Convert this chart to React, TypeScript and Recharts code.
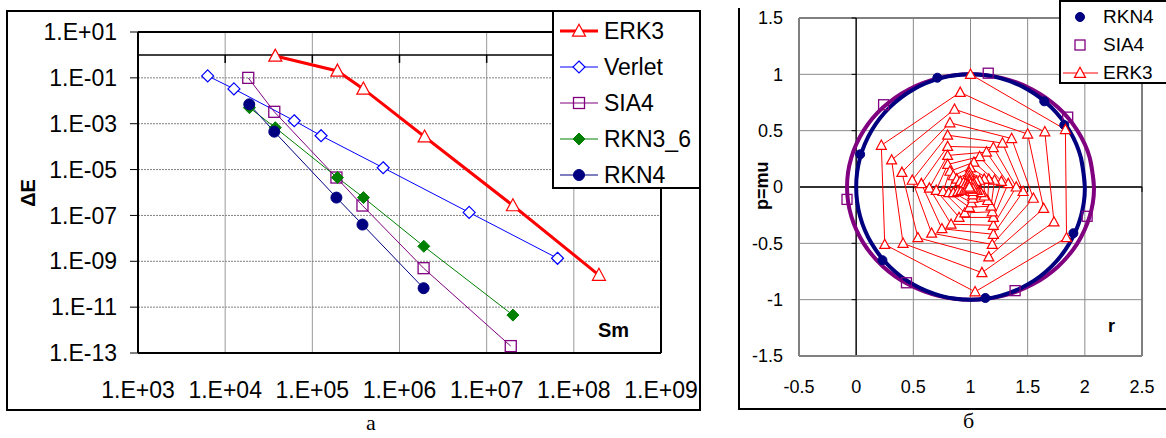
import React from "react"
import { ComposedChart, Line, XAxis, YAxis, CartesianGrid, ReferenceLine } from "recharts"

// ---- chart "a": energy error vs number of steps (log-log)
const xTicksA = [1e3, 1e4, 1e5, 1e6, 1e7, 1e8, 1e9]
const yTicksA = [1e-13, 1e-11, 1e-9, 1e-7, 1e-5, 1e-3, 1e-1, 1e1]
const crossTicksA = [1e4, 1e5, 1e6, 1e7, 1e8]

const erk3A: [number, number][] = [
  [3.76e4, 0.9],
  [1.94e5, 0.2],
  [3.85e5, 0.033],
  [1.94e6, 2.7e-4],
  [2.0e7, 2.7e-7],
  [1.94e8, 2.5e-10],
]
const verletA: [number, number][] = [
  [6.3e3, 0.122],
  [1.26e4, 0.033],
  [6.2e4, 1.35e-3],
  [1.26e5, 3.0e-4],
  [6.5e5, 1.2e-5],
  [6.3e6, 1.35e-7],
  [6.5e7, 1.35e-9],
]
const sia4A: [number, number][] = [
  [1.84e4, 0.1],
  [3.66e4, 3.3e-3],
  [1.89e5, 4.5e-6],
  [3.76e5, 2.7e-7],
  [1.89e6, 5e-10],
  [1.89e7, 2e-13],
]
const rkn36A: [number, number][] = [
  [1.9e4, 5e-3],
  [3.76e4, 6.7e-4],
  [1.94e5, 4.5e-6],
  [3.86e5, 6e-7],
  [1.9e6, 4.5e-9],
  [2.0e7, 4.5e-12],
]
const rkn4A: [number, number][] = [
  [1.89e4, 7e-3],
  [3.66e4, 4.5e-4],
  [1.89e5, 6e-7],
  [3.76e5, 4e-8],
  [1.89e6, 6.7e-11],
]

// ---- chart "б": phase portrait r / p=mu
const xTicksB = [-0.5, 0, 0.5, 1, 1.5, 2, 2.5]
const yTicksB = [-1.5, -1, -0.5, 0, 0.5, 1, 1.5]

const rkn4Orbit: [number, number][] = [
  [2.0, 0], [1.966, 0.259], [1.866, 0.5], [1.707, 0.707], [1.5, 0.866], [1.259, 0.966],
  [1.0, 1.0], [0.741, 0.966], [0.5, 0.866], [0.293, 0.707], [0.134, 0.5], [0.034, 0.259],
  [0.0, 0], [0.034, -0.259], [0.134, -0.5], [0.293, -0.707], [0.5, -0.866], [0.741, -0.966],
  [1.0, -1.0], [1.259, -0.966], [1.5, -0.866], [1.707, -0.707], [1.866, -0.5], [1.966, -0.259],
  [2.0, 0], [1.966, 0.259],
]
const sia4Orbit: [number, number][] = [
  [2.08, 0], [2.043, 0.259], [1.935, 0.5], [1.764, 0.707], [1.54, 0.866], [1.28, 0.966],
  [1.0, 1.0], [0.72, 0.966], [0.46, 0.866], [0.236, 0.707], [0.065, 0.5], [-0.043, 0.259],
  [-0.08, 0], [-0.043, -0.259], [0.065, -0.5], [0.236, -0.707], [0.46, -0.866], [0.72, -0.966],
  [1.0, -1.0], [1.28, -0.966], [1.54, -0.866], [1.764, -0.707], [1.935, -0.5], [2.043, -0.259],
  [2.08, 0], [2.043, 0.259],
]
const rkn4Marks: [number, number][] = [
  [0.035, 0.29], [0.71, 0.97], [1.645, 0.76], [1.82, 0.55], [1.9, -0.41], [0.23, -0.65], [1.13, -0.985],
]
const sia4Marks: [number, number][] = [
  [0.24, 0.73], [1.155, 1.01], [1.85, 0.62], [-0.08, -0.11], [2.02, -0.26], [0.44, -0.85], [1.39, -0.92],
]
const erk3Spiral: [number, number][] = [
  [1.0, 1.0], [1.83, 0.51], [1.84, -0.45], [1.04, -0.93], [0.25, -0.51], [0.22, 0.37],
  [0.91, 0.84], [1.65, 0.49], [1.73, -0.31], [1.1, -0.76], [0.41, -0.5], [0.31, 0.24],
  [0.86, 0.69], [1.5, 0.47], [1.64, -0.19], [1.16, -0.62], [0.54, -0.45], [0.4, 0.13],
  [0.82, 0.57], [1.36, 0.43], [1.55, -0.1], [1.19, -0.51], [0.66, -0.41], [0.49, 0.06],
  [0.8, 0.46], [1.28, 0.39], [1.46, -0.04], [1.2, -0.42], [0.75, -0.37], [0.57, 0.03],
  [0.8, 0.36], [1.2, 0.35], [1.4, 0.0], [1.2, -0.34], [0.83, -0.33], [0.64, -0.01],
  [0.8, 0.28], [1.14, 0.31], [1.33, 0.03], [1.2, -0.27], [0.9, -0.27], [0.7, -0.03],
  [0.8, 0.2], [1.08, 0.27], [1.27, 0.05], [1.19, -0.22], [0.95, -0.23], [0.76, -0.04],
  [0.82, 0.14], [1.03, 0.22], [1.21, 0.06], [1.18, -0.17], [0.99, -0.18], [0.81, -0.05],
  [0.85, 0.1], [1.0, 0.17], [1.16, 0.07], [1.15, -0.12], [1.01, -0.14], [0.85, -0.05],
  [0.88, 0.07], [0.99, 0.13], [1.12, 0.07], [1.12, -0.08], [1.02, -0.1], [0.89, -0.04],
  [0.91, 0.05], [0.99, 0.1], [1.08, 0.06], [1.09, -0.05], [1.02, -0.07], [0.92, -0.03],
  [0.94, 0.04], [0.99, 0.07], [1.05, 0.05], [1.06, -0.03], [1.02, -0.04], [0.95, -0.02],
  [0.96, 0.03], [0.99, 0.05], [1.03, 0.03], [1.04, -0.02], [1.01, -0.02], [0.97, -0.01],
  [0.98, 0.02], [1.0, 0.03], [1.02, 0.02], [1.02, -0.01], [1.0, -0.01], [0.99, 0.0],
]

const pts = (a: [number, number][]) => a.map(([x, y]) => ({ x, y }))

const sci = (v: number) => {
  const e = Math.round(Math.log10(v))
  return `1.E${e < 0 ? "-" : "+"}${String(Math.abs(e)).padStart(2, "0")}`
}

const FONT = "'Liberation Sans', Arial, sans-serif"
const SERIF = "'Liberation Serif', 'Times New Roman', serif"

// marker shapes
function Mark({ kind, cx, cy, s, color }: { kind: string; cx: number; cy: number; s: number; color: string }) {
  const h = s / 2
  if (kind === "tri")
    return <polygon points={`${cx},${cy - h * 1.05} ${cx - h},${cy + h * 0.8} ${cx + h},${cy + h * 0.8}`} fill="#fff" stroke={color} strokeWidth={1.2} />
  if (kind === "dia")
    return <polygon points={`${cx},${cy - h} ${cx + h},${cy} ${cx},${cy + h} ${cx - h},${cy}`} fill="#fff" stroke={color} strokeWidth={1.2} />
  if (kind === "fdia")
    return <polygon points={`${cx},${cy - h} ${cx + h},${cy} ${cx},${cy + h} ${cx - h},${cy}`} fill={color} stroke={color} strokeWidth={1} />
  if (kind === "sq")
    return <rect x={cx - h} y={cy - h} width={s} height={s} fill="none" stroke={color} strokeWidth={1.3} />
  return <circle cx={cx} cy={cy} r={h} fill={color} stroke={color} />
}

const dot = (kind: string, s: number, color: string) => (p: any) => {
  if (p.cx == null || p.cy == null) return <g key={p.index} />
  return (
    <g key={p.index}>
      <Mark kind={kind} cx={p.cx} cy={p.cy} s={s} color={color} />
    </g>
  )
}

const legendA = [
  { name: "ERK3", color: "#ff0000", kind: "tri", w: 3, s: 13 },
  { name: "Verlet", color: "#0000ff", kind: "dia", w: 1, s: 12 },
  { name: "SIA4", color: "#800080", kind: "sq", w: 1, s: 11 },
  { name: "RKN3_6", color: "#008000", kind: "fdia", w: 1, s: 12 },
  { name: "RKN4", color: "#000080", kind: "dot", w: 1, s: 11 },
]

function ChartA() {
  return (
    <ComposedChart width={700} height={410} margin={{ top: 32, right: 39, bottom: 17, left: 0 }}>
      <CartesianGrid horizontal={false} stroke="#9a9a9a" />
      <CartesianGrid vertical={false} stroke="#808080" strokeDasharray="2 1" />
      <XAxis
        dataKey="x"
        type="number"
        scale="log"
        domain={[1e3, 1e9]}
        ticks={xTicksA}
        tickFormatter={sci}
        allowDataOverflow
        height={40}
        tickLine={false}
        tickSize={0}
        tickMargin={29}
        axisLine={{ stroke: "#000", strokeWidth: 2 }}
        tick={{ fontSize: 23, fill: "#000", fontFamily: FONT }}
      />
      <YAxis
        dataKey="y"
        type="number"
        scale="log"
        domain={[1e-13, 10]}
        ticks={yTicksA}
        tickFormatter={sci}
        allowDataOverflow
        width={138}
        tickSize={8}
        tickMargin={13}
        tickLine={{ stroke: "#000" }}
        axisLine={{ stroke: "#000", strokeWidth: 2 }}
        tick={{ fontSize: 23, fill: "#000", fontFamily: FONT }}
      />
      <ReferenceLine y={10} stroke="#000" strokeWidth={2} />
      <ReferenceLine x={1e9} stroke="#000" strokeWidth={2} />
      <ReferenceLine y={1} stroke="#000" strokeWidth={1.5} />
      {crossTicksA.map((t) => (
        <ReferenceLine key={t} segment={[{ x: t, y: 1 }, { x: t, y: 0.45 }]} stroke="#000" strokeWidth={1.5} />
      ))}
      <Line data={pts(verletA)} dataKey="y" stroke="#0000ff" strokeWidth={1} dot={dot("dia", 12, "#0000ff")} activeDot={false} isAnimationActive={false} />
      <Line data={pts(sia4A)} dataKey="y" stroke="#800080" strokeWidth={1} dot={dot("sq", 11, "#800080")} activeDot={false} isAnimationActive={false} />
      <Line data={pts(rkn36A)} dataKey="y" stroke="#008000" strokeWidth={1} dot={dot("fdia", 12, "#008000")} activeDot={false} isAnimationActive={false} />
      <Line data={pts(rkn4A)} dataKey="y" stroke="#000080" strokeWidth={1} dot={dot("dot", 11, "#000080")} activeDot={false} isAnimationActive={false} />
      <Line data={pts(erk3A)} dataKey="y" stroke="#ff0000" strokeWidth={3} dot={dot("tri", 13, "#ff0000")} activeDot={false} isAnimationActive={false} />
    </ComposedChart>
  )
}

function ChartB() {
  return (
    <ComposedChart width={428} height={410} margin={{ top: 18, right: 24, bottom: 14, left: 0 }}>
      <CartesianGrid stroke="#8a8a8a" />
      <XAxis
        dataKey="x"
        type="number"
        domain={[-0.5, 2.5]}
        ticks={xTicksB}
        allowDataOverflow
        height={40}
        tickLine={false}
        tickSize={0}
        tickMargin={24}
        axisLine={{ stroke: "#808080", strokeWidth: 2 }}
        tick={{ fontSize: 18, fill: "#000", fontFamily: FONT }}
      />
      <YAxis
        dataKey="y"
        type="number"
        domain={[-1.5, 1.5]}
        ticks={yTicksB}
        allowDataOverflow
        width={61}
        tickLine={false}
        tickSize={0}
        tickMargin={16}
        axisLine={{ stroke: "#808080", strokeWidth: 2 }}
        tick={{ fontSize: 18, fill: "#000", fontFamily: FONT }}
      />
      <ReferenceLine y={1.5} stroke="#808080" strokeWidth={2} />
      <ReferenceLine x={2.5} stroke="#808080" strokeWidth={2} />
      <ReferenceLine x={0} stroke="#000" strokeWidth={1.3} />
      <ReferenceLine y={0} stroke="#000" strokeWidth={1.3} />
      {yTicksB.map((t) => (
        <ReferenceLine key={"y" + t} segment={[{ x: -0.04, y: t }, { x: 0, y: t }]} stroke="#000" />
      ))}
      {xTicksB.map((t) => (
        <ReferenceLine key={"x" + t} segment={[{ x: t, y: 0 }, { x: t, y: -0.045 }]} stroke="#000" />
      ))}
      <Line data={pts(sia4Orbit)} type="natural" dataKey="y" stroke="#800080" strokeWidth={4} dot={false} activeDot={false} isAnimationActive={false} />
      <Line data={pts(rkn4Orbit)} type="natural" dataKey="y" stroke="#000080" strokeWidth={4} dot={false} activeDot={false} isAnimationActive={false} />
      <Line data={pts(sia4Marks)} dataKey="y" stroke="none" dot={dot("sq", 10, "#800080")} activeDot={false} isAnimationActive={false} />
      <Line data={pts(rkn4Marks)} dataKey="y" stroke="none" dot={dot("dot", 9, "#000080")} activeDot={false} isAnimationActive={false} />
      <Line data={pts(erk3Spiral)} dataKey="y" stroke="#ff0000" strokeWidth={1} dot={dot("tri", 10, "#ff0000")} activeDot={false} isAnimationActive={false} />
    </ComposedChart>
  )
}

export default function App() {
  return (
    <div style={{ position: "absolute", left: 0, top: 0, width: 1166, height: 438, background: "#fff", overflow: "hidden", fontFamily: FONT }}>
      <div style={{ position: "absolute", left: 6, top: 10, width: 695, height: 401, border: "2px solid #000", boxSizing: "border-box" }} />
      <div style={{ position: "absolute", left: 0, top: 0 }}>
        <ChartA />
      </div>
      <div style={{ position: "absolute", left: 8, top: 193, transform: "translate(0,-50%) rotate(-90deg)", fontWeight: "bold", fontSize: 20, lineHeight: "20px", width: 40, textAlign: "center" }}>ΔE</div>
      <div style={{ position: "absolute", left: 598, top: 319, fontWeight: "bold", fontSize: 20, lineHeight: "22px" }}>Sm</div>
      {/* legend a */}
      <div style={{ position: "absolute", left: 552, top: 10, width: 149, height: 179, border: "2px solid #000", boxSizing: "border-box", background: "#fff" }}>
        <svg width={145} height={175} style={{ position: "absolute", left: 0, top: 0 }}>
          {legendA.map((l, i) => {
            const y = 19 + i * 36
            return (
              <g key={l.name}>
                <line x1={6} x2={44} y1={y} y2={y} stroke={l.color} strokeWidth={l.w} />
                <Mark kind={l.kind} cx={25} cy={y} s={l.s} color={l.color} />
                <text x={50} y={y + 8} fontSize={23} fontFamily={FONT} fill="#000">{l.name}</text>
              </g>
            )
          })}
        </svg>
      </div>
      <div style={{ position: "absolute", left: 366, top: 410, fontFamily: SERIF, fontSize: 22 }}>а</div>

      {/* chart б */}
      <div style={{ position: "absolute", left: 738, top: 8, width: 440, height: 402, borderLeft: "2px solid #000", borderBottom: "2px solid #000", boxSizing: "border-box" }} />
      <div style={{ position: "absolute", left: 738, top: 0 }}>
        <ChartB />
      </div>
      <div style={{ position: "absolute", left: 742, top: 190, transform: "translate(0,-50%) rotate(-90deg)", fontWeight: "bold", fontSize: 18, lineHeight: "18px", width: 40, textAlign: "center" }}>p=mu</div>
      <div style={{ position: "absolute", left: 1108, top: 316, fontWeight: "bold", fontSize: 18, lineHeight: "20px" }}>r</div>
      <div style={{ position: "absolute", left: 1059, top: 0, width: 120, height: 84, border: "2px solid #000", boxSizing: "border-box", background: "#fff" }}>
        <svg width={116} height={80} style={{ position: "absolute", left: 0, top: 0 }}>
          <Mark kind="dot" cx={19} cy={15} s={9} color="#000080" />
          <text x={42} y={21} fontSize={19} fontFamily={FONT}>RKN4</text>
          <Mark kind="sq" cx={19} cy={43} s={10} color="#800080" />
          <text x={42} y={49} fontSize={19} fontFamily={FONT}>SIA4</text>
          <line x1={2} x2={37} y1={71} y2={71} stroke="#ff0000" strokeWidth={1} />
          <Mark kind="tri" cx={19} cy={71} s={11} color="#ff0000" />
          <text x={42} y={77} fontSize={19} fontFamily={FONT}>ERK3</text>
        </svg>
      </div>
      <div style={{ position: "absolute", left: 963, top: 408, fontFamily: SERIF, fontSize: 22 }}>б</div>
    </div>
  )
}
